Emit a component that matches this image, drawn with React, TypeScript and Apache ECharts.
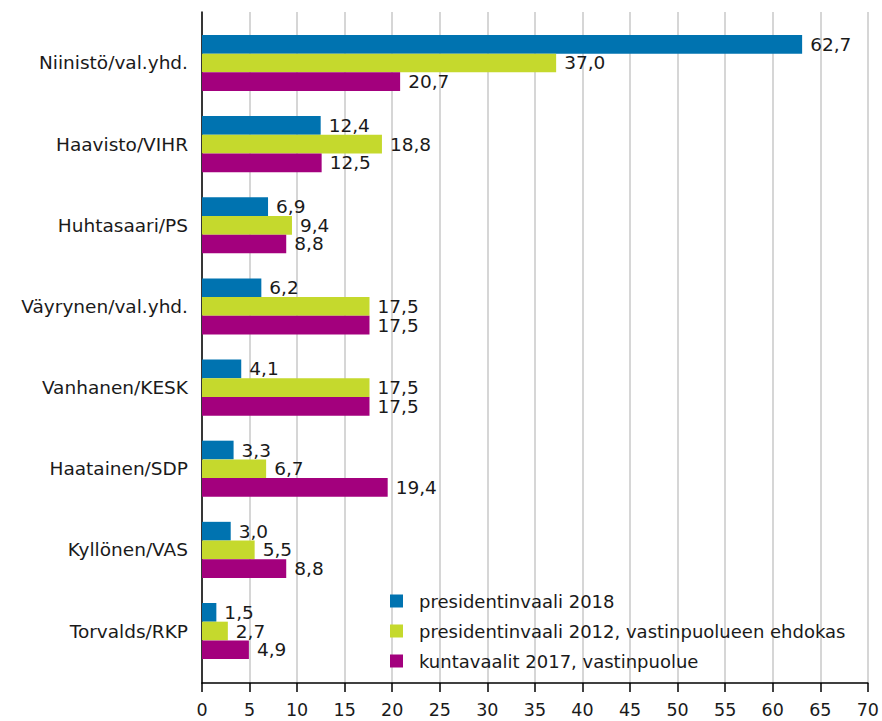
import React, { useEffect, useRef } from "react";
import * as echarts from "echarts";

const categories = [
  "Niinistö/val.yhd.",
  "Haavisto/VIHR",
  "Huhtasaari/PS",
  "Väyrynen/val.yhd.",
  "Vanhanen/KESK",
  "Haatainen/SDP",
  "Kyllönen/VAS",
  "Torvalds/RKP",
];
const seriesNames = [
  "presidentinvaali 2018",
  "presidentinvaali 2012, vastinpuolueen ehdokas",
  "kuntavaalit 2017, vastinpuolue",
];
const values2018 = [62.7, 12.4, 6.9, 6.2, 4.1, 3.3, 3.0, 1.5];
const values2012 = [37.0, 18.8, 9.4, 17.5, 17.5, 6.7, 5.5, 2.7];
const values2017 = [20.7, 12.5, 8.8, 17.5, 17.5, 19.4, 8.8, 4.9];
const colors = ["#0073b0", "#c5d92d", "#a3007d"];

const FONT = "DejaVu Sans";
const TEXT = "#1a1a1a";

export default function App() {
  const ref = useRef<HTMLDivElement>(null);
  useEffect(() => {
    if (!ref.current) return;
    const chart = echarts.init(ref.current, undefined, { renderer: "svg" });
    const fmt = (p: any) => Number(p.value).toFixed(1).replace(".", ",");
    const mk = (name: string, data: number[], color: string) => ({
      name,
      type: "bar",
      xAxisIndex: 1,
      yAxisIndex: 1,
      data,
      barWidth: 18.7,
      barGap: "0%",
      itemStyle: { color },
      label: {
        show: true,
        position: "right",
        distance: 8,
        formatter: fmt,
        fontFamily: FONT,
        fontSize: 18.5,
        lineHeight: 16,
        color: TEXT,
      },
    });
    chart.setOption({
      animation: false,
      color: colors,
      grid: [
        { left: 202, right: 10, top: 12, bottom: 38, containLabel: false },
        { left: 202, right: 10, top: 22.4, bottom: 721 - 671.6, containLabel: false },
      ],
      xAxis: [
        {
          type: "value",
          gridIndex: 0,
          min: 0,
          max: 70,
          interval: 5,
          axisLine: { show: true, lineStyle: { color: "#000", width: 1.5 } },
          axisTick: { show: true, length: 9, lineStyle: { color: "#000", width: 1.5 } },
          axisLabel: { fontFamily: FONT, fontSize: 17.5, color: TEXT, margin: 18 },
          splitLine: { show: true, lineStyle: { color: "#c8c8c8", width: 1.5 } },
        },
        {
          type: "value",
          gridIndex: 1,
          min: 0,
          max: 70,
          interval: 5,
          show: false,
        },
      ],
      yAxis: [
        {
          type: "category",
          gridIndex: 0,
          data: [""],
          axisLine: { show: true, lineStyle: { color: "#000", width: 1.5 } },
          axisTick: { show: false },
          axisLabel: { show: false },
          splitLine: { show: false },
        },
        {
          type: "category",
          gridIndex: 1,
          data: categories,
          inverse: true,
          axisLine: { show: false },
          axisTick: { show: false },
          axisLabel: { fontFamily: FONT, fontSize: 18.5, color: TEXT, margin: 14 },
          splitLine: { show: false },
        },
      ],
      legend: {
        orient: "vertical",
        left: 390,
        top: 592,
        padding: 0,
        itemWidth: 13,
        itemHeight: 13,
        itemGap: 12,
        icon: "rect",
        data: seriesNames,
        textStyle: {
          fontFamily: FONT,
          fontSize: 18,
          color: TEXT,
          lineHeight: 18,
          padding: [0, 0, 0, 11],
        },
      },
      series: [
        mk(seriesNames[0], values2018, colors[0]),
        mk(seriesNames[1], values2012, colors[1]),
        mk(seriesNames[2], values2017, colors[2]),
      ],
    });
    return () => chart.dispose();
  }, []);
  return (
    <div
      ref={ref}
      style={{ position: "absolute", left: 0, top: 0, width: 882, height: 721 }}
    />
  );
}
